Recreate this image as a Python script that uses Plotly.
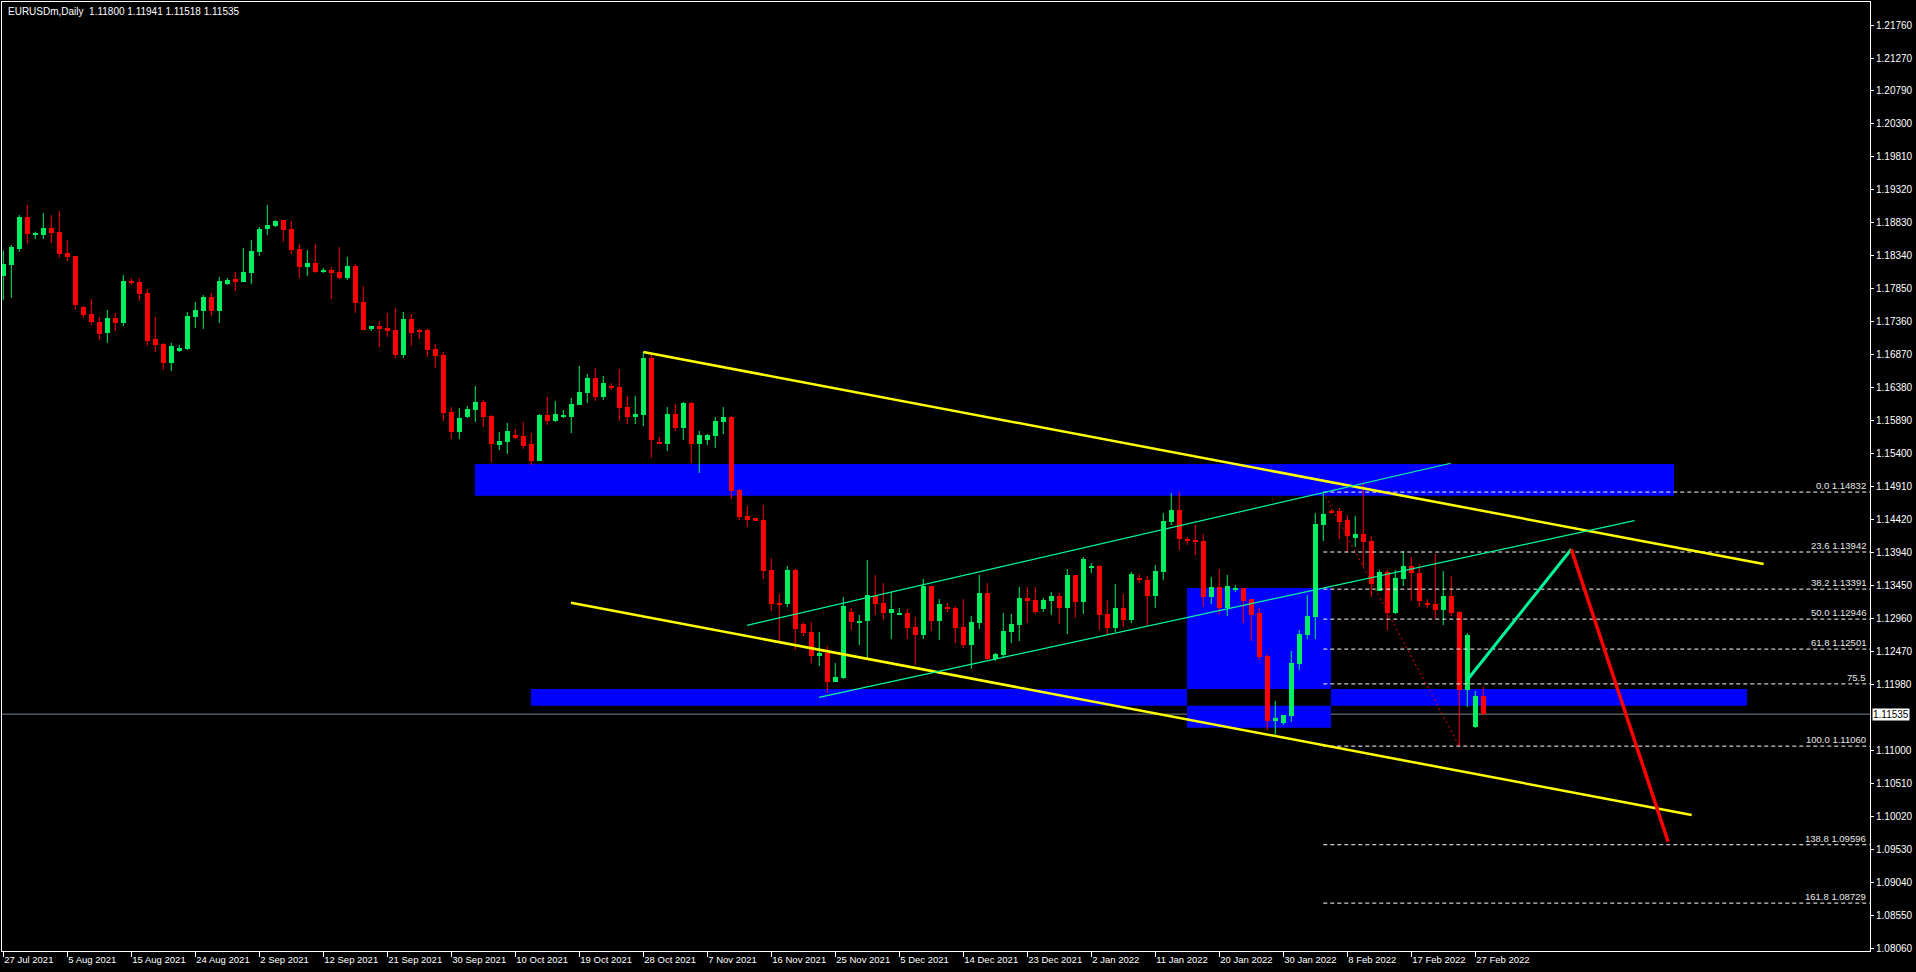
import plotly.graph_objects as go

# ---------------- data ----------------
SYMBOL = "EURUSDm,Daily"
LAST_OHLC = "1.11800 1.11941 1.11518 1.11535"
CURRENT_PRICE = 1.11535

OPEN = [1.18045, 1.18204, 1.18441, 1.18917, 1.18644, 1.18649, 1.18753, 1.18694, 1.18382, 1.18337,
        1.17580, 1.17476, 1.17357, 1.17194, 1.17417, 1.17343, 1.17966, 1.17951, 1.17788, 1.17105,
        1.17031, 1.16749, 1.16927, 1.16957, 1.17432, 1.17521, 1.17729, 1.17521, 1.17922, 1.17996,
        1.17951, 1.18085, 1.18397, 1.18738, 1.18783, 1.18872, 1.18738, 1.18441, 1.18174, 1.18234,
        1.18110, 1.18130, 1.18100, 1.18011, 1.18189, 1.17654, 1.17254, 1.17298, 1.17268, 1.17239,
        1.16867, 1.17402, 1.17239, 1.17239, 1.16957, 1.16867, 1.16021, 1.15724, 1.15947, 1.16051,
        1.16170, 1.15962, 1.15531, 1.15576, 1.15680, 1.15665, 1.15546, 1.15293, 1.15977, 1.15887,
        1.15947, 1.15947, 1.16125, 1.16303, 1.16526, 1.16244, 1.16407, 1.16392, 1.16095, 1.15947,
        1.15977, 1.16823, 1.15576, 1.15546, 1.15991, 1.15783, 1.16155, 1.15546, 1.15605, 1.15665,
        1.15873, 1.15947, 1.14863, 1.14477, 1.14447, 1.14417, 1.13675, 1.13185, 1.13170, 1.13675,
        1.12873, 1.12754, 1.12398, 1.12443, 1.12012, 1.12071, 1.13051, 1.12903, 1.12918, 1.13289,
        1.13185, 1.13037, 1.13007, 1.13037, 1.12829, 1.12710, 1.13437, 1.12918, 1.13126, 1.13111,
        1.12829, 1.12561, 1.12888, 1.13334, 1.12354, 1.12413, 1.12754, 1.12858, 1.13259, 1.13230,
        1.13096, 1.13215, 1.13289, 1.13111, 1.13601, 1.13200, 1.13705, 1.13734, 1.13022, 1.12814,
        1.13111, 1.12933, 1.13556, 1.13527, 1.13289, 1.13645, 1.14388, 1.14566, 1.14120, 1.14120,
        1.14106, 1.13274, 1.13423, 1.13111, 1.13378, 1.13408, 1.13244, 1.13037, 1.12398, 1.11433,
        1.11403, 1.11507, 1.12279, 1.12710, 1.12977, 1.14343, 1.14551, 1.14551, 1.14417, 1.14150,
        1.14210, 1.14106, 1.13363, 1.13645, 1.13037, 1.13541, 1.13734, 1.13630, 1.13185, 1.13170,
        1.13081, 1.13289, 1.13051, 1.11893, 1.11344, 1.11800]
HIGH = [1.18417, 1.18501, 1.18946, 1.19095, 1.18699, 1.18976, 1.18946, 1.19006, 1.18575, 1.18337,
        1.17595, 1.17699, 1.17432, 1.17536, 1.17491, 1.18055, 1.18011, 1.18011, 1.17847, 1.17432,
        1.17046, 1.17046, 1.17016, 1.17506, 1.17654, 1.17758, 1.17788, 1.18026, 1.18011, 1.18100,
        1.18456, 1.18575, 1.18768, 1.19095, 1.18872, 1.18872, 1.18857, 1.18516, 1.18427, 1.18516,
        1.18159, 1.18174, 1.18471, 1.18323, 1.18219, 1.17892, 1.17298, 1.17372, 1.17491, 1.17565,
        1.17506, 1.17476, 1.17254, 1.17254, 1.17031, 1.16912, 1.16095, 1.16080, 1.16110, 1.16407,
        1.16199, 1.15977, 1.15724, 1.15858, 1.15769, 1.15873, 1.15709, 1.15991, 1.16244, 1.16184,
        1.16051, 1.16229, 1.16704, 1.16585, 1.16674, 1.16556, 1.16452, 1.16660, 1.16259, 1.16259,
        1.16912, 1.16882, 1.15650, 1.16095, 1.16140, 1.16170, 1.16170, 1.15739, 1.15694, 1.15947,
        1.16095, 1.15962, 1.14878, 1.14625, 1.14447, 1.14640, 1.13853, 1.13319, 1.13734, 1.13690,
        1.12903, 1.12903, 1.12754, 1.12547, 1.12294, 1.13274, 1.13111, 1.13007, 1.13823, 1.13601,
        1.13482, 1.13348, 1.13111, 1.13096, 1.12977, 1.13541, 1.13437, 1.13244, 1.13185, 1.13140,
        1.13244, 1.12992, 1.13601, 1.13482, 1.12443, 1.13037, 1.13022, 1.13423, 1.13423, 1.13423,
        1.13259, 1.13348, 1.13334, 1.13690, 1.13601, 1.13868, 1.13779, 1.13749, 1.13230, 1.13467,
        1.13319, 1.13645, 1.13616, 1.13586, 1.13749, 1.14521, 1.14818, 1.14832, 1.14165, 1.14343,
        1.14210, 1.13571, 1.13690, 1.13601, 1.13452, 1.13408, 1.13244, 1.13111, 1.12428, 1.11730,
        1.11522, 1.12472, 1.12784, 1.13304, 1.14521, 1.14832, 1.14581, 1.14596, 1.14492, 1.14477,
        1.14952, 1.14180, 1.13675, 1.13675, 1.13675, 1.13957, 1.13868, 1.13764, 1.13244, 1.13913,
        1.13660, 1.13586, 1.13066, 1.12740, 1.11878, 1.11941]
LOW = [1.17684, 1.17719, 1.18402, 1.18521, 1.18590, 1.18590, 1.18530, 1.18308, 1.18263, 1.17541,
       1.17422, 1.17313, 1.17090, 1.17046, 1.17224, 1.17298, 1.17907, 1.17669, 1.17001, 1.16912,
       1.16645, 1.16630, 1.16912, 1.16942, 1.17268, 1.17254, 1.17447, 1.17343, 1.17907, 1.17818,
       1.17951, 1.17922, 1.18337, 1.18649, 1.18768, 1.18545, 1.18367, 1.18011, 1.18040, 1.18085,
       1.18085, 1.17699, 1.17996, 1.17981, 1.17491, 1.17239, 1.17224, 1.16986, 1.17135, 1.16823,
       1.16823, 1.17001, 1.17105, 1.16838, 1.16674, 1.15887, 1.15620, 1.15620, 1.15932, 1.15873,
       1.15798, 1.15279, 1.15457, 1.15397, 1.15620, 1.15472, 1.15234, 1.15293, 1.15828, 1.15873,
       1.15932, 1.15709, 1.16125, 1.16155, 1.16184, 1.16199, 1.16348, 1.15887, 1.15843, 1.15843,
       1.15813, 1.15338, 1.15546, 1.15442, 1.15739, 1.15605, 1.15264, 1.15115, 1.15531, 1.15487,
       1.15694, 1.14729, 1.14417, 1.14313, 1.14403, 1.13541, 1.13066, 1.12621, 1.13126, 1.12487,
       1.12695, 1.12289, 1.12250, 1.11849, 1.12012, 1.12057, 1.12784, 1.12561, 1.12353, 1.13007,
       1.12933, 1.12650, 1.13007, 1.12650, 1.12264, 1.12650, 1.12769, 1.12636, 1.13051, 1.12591,
       1.12517, 1.12210, 1.12799, 1.12339, 1.12324, 1.12368, 1.12591, 1.12621, 1.12888, 1.13022,
       1.13051, 1.13007, 1.12873, 1.12725, 1.12962, 1.13022, 1.13630, 1.12784, 1.12710, 1.12754,
       1.12829, 1.12888, 1.13482, 1.12844, 1.13111, 1.13527, 1.14343, 1.13972, 1.14046, 1.13898,
       1.13126, 1.13170, 1.13022, 1.12992, 1.13348, 1.12888, 1.12621, 1.12339, 1.11299, 1.11210,
       1.11374, 1.11418, 1.12190, 1.12650, 1.12650, 1.14106, 1.14507, 1.14135, 1.13942, 1.14017,
       1.13720, 1.13274, 1.13363, 1.12784, 1.13022, 1.13437, 1.13215, 1.13126, 1.13111, 1.12947,
       1.12858, 1.12992, 1.11060, 1.11641, 1.11329, 1.11518]
CLOSE = [1.18219, 1.18471, 1.18917, 1.18669, 1.18674, 1.18753, 1.18679, 1.18372, 1.18323, 1.17610,
         1.17461, 1.17362, 1.17184, 1.17417, 1.17343, 1.17966, 1.17937, 1.17773, 1.17075, 1.17016,
         1.16749, 1.17001, 1.16971, 1.17447, 1.17536, 1.17729, 1.17521, 1.17966, 1.17981, 1.17951,
         1.18100, 1.18412, 1.18738, 1.18798, 1.18857, 1.18724, 1.18427, 1.18174, 1.18234, 1.18100,
         1.18125, 1.18085, 1.18011, 1.18189, 1.17640, 1.17239, 1.17298, 1.17254, 1.17224, 1.16867,
         1.17402, 1.17194, 1.17209, 1.16942, 1.16853, 1.16006, 1.15724, 1.15932, 1.16066, 1.16170,
         1.15947, 1.15551, 1.15590, 1.15739, 1.15635, 1.15516, 1.15293, 1.15977, 1.15887, 1.15991,
         1.15962, 1.16140, 1.16318, 1.16526, 1.16244, 1.16452, 1.16377, 1.16080, 1.15947, 1.15991,
         1.16823, 1.15605, 1.15546, 1.15991, 1.15783, 1.16155, 1.15546, 1.15680, 1.15680, 1.15887,
         1.15947, 1.14848, 1.14462, 1.14417, 1.14403, 1.13660, 1.13170, 1.13155, 1.13675, 1.12799,
         1.12740, 1.12398, 1.12443, 1.12012, 1.12086, 1.13140, 1.12903, 1.12918, 1.13304, 1.13170,
         1.13037, 1.13096, 1.13037, 1.12814, 1.12710, 1.13437, 1.12918, 1.13170, 1.13096, 1.12814,
         1.12561, 1.12903, 1.13334, 1.12354, 1.12428, 1.12769, 1.12873, 1.13259, 1.13215, 1.13051,
         1.13230, 1.13289, 1.13111, 1.13601, 1.13200, 1.13838, 1.13734, 1.13007, 1.12814, 1.13111,
         1.12933, 1.13616, 1.13527, 1.13289, 1.13660, 1.14403, 1.14566, 1.14135, 1.14106, 1.14091,
         1.13274, 1.13423, 1.13111, 1.13437, 1.13408, 1.13215, 1.13007, 1.12383, 1.11433, 1.11477,
         1.11522, 1.12294, 1.12725, 1.12992, 1.14358, 1.14507, 1.14536, 1.14388, 1.14180, 1.14210,
         1.14091, 1.13467, 1.13645, 1.13037, 1.13556, 1.13734, 1.13630, 1.13215, 1.13155, 1.13081,
         1.13289, 1.13037, 1.11893, 1.12710, 1.11804, 1.11535]

DATE_LABELS = ["27 Jul 2021", "5 Aug 2021", "15 Aug 2021", "24 Aug 2021", "2 Sep 2021",
               "12 Sep 2021", "21 Sep 2021", "30 Sep 2021", "10 Oct 2021", "19 Oct 2021",
               "28 Oct 2021", "7 Nov 2021", "16 Nov 2021", "25 Nov 2021", "5 Dec 2021",
               "14 Dec 2021", "23 Dec 2021", "2 Jan 2022", "11 Jan 2022", "20 Jan 2022",
               "30 Jan 2022", "8 Feb 2022", "17 Feb 2022", "27 Feb 2022"]
DATE_STEP = 8  # one date label every 8 bars

PRICE_TICKS = [1.21760, 1.21270, 1.20790, 1.20300, 1.19810, 1.19320, 1.18830, 1.18340, 1.17850,
               1.17360, 1.16870, 1.16380, 1.15890, 1.15400, 1.14910, 1.14420, 1.13940, 1.13450,
               1.12960, 1.12470, 1.11980, 1.11000, 1.10510, 1.10020, 1.09530, 1.09040, 1.08550,
               1.08060]

# Fibonacci retracement (anchored at bar 165 high -> bar 182 low)
FIB_START_BAR = 165
FIB_PRICES = [1.14832, 1.13942, 1.13391, 1.12946, 1.12501, 1.11984, 1.11060, 1.09596, 1.08729]
FIB_TEXT = ["0.0 1.14832", "23.6 1.13942", "38.2 1.13391", "50.0 1.12946", "61.8 1.12501",
            "75.5", "100.0 1.11060", "138.8 1.09596", "161.8 1.08729"]

# zones: (bar_from, bar_to, price_low, price_high)
ZONE_TOP = (58.96, 208.84, 1.14779, 1.15249)
ZONE_LOW = (65.96, 217.96, 1.11660, 1.11908)
ZONE_BOX = (147.96, 165.96, 1.11334, 1.13408)

# trend lines: (bar0, price0, bar1, price1)
YELLOW_UPPER = (80.0, 1.16912, 220.04, 1.13764)
YELLOW_LOWER = (70.96, 1.13190, 211.05, 1.10038)
GREEN_UPPER = (92.96, 1.12854, 180.93, 1.15260)
GREEN_LOWER = (101.96, 1.11785, 203.9, 1.14407)
FIB_BASE = (165.0, 1.14832, 182.0, 1.11060)
PROJ_UP = (183.0, 1.12042, 196.0, 1.13983)
PROJ_DOWN = (196.0, 1.13983, 208.1, 1.09641)

# ---------------- figure ----------------
W, H = 1916, 972
ML, MR, MT, MB = 2, 46, 2, 21
XRANGE = [-0.1625, 233.34]
YRANGE = [1.08018, 1.22109]

GREEN = "#00F060"
RED = "#FF0000"
FONT = "'Liberation Sans', Arial, sans-serif"

n = len(OPEN)
idx = list(range(n))
up = [i for i in idx if CLOSE[i] >= OPEN[i]]
dn = [i for i in idx if CLOSE[i] < OPEN[i]]

MIN_BODY = 0.00018


def wick_xy(ids):
    xs, ys = [], []
    for i in ids:
        xs += [i, i, None]
        ys += [LOW[i], HIGH[i], None]
    return xs, ys


fig = go.Figure()
for ids, col in ((up, GREEN), (dn, RED)):
    wx, wy = wick_xy(ids)
    fig.add_trace(go.Scatter(x=wx, y=wy, mode="lines", line=dict(color=col, width=1),
                             hoverinfo="skip", showlegend=False))
    base = [min(OPEN[i], CLOSE[i]) for i in ids]
    hgt = [max(abs(CLOSE[i] - OPEN[i]), MIN_BODY) for i in ids]
    fig.add_trace(go.Bar(x=ids, y=hgt, base=base, width=0.625,
                         marker=dict(color=col, line=dict(width=0)),
                         hoverinfo="skip", showlegend=False))

shapes = []
for z in (ZONE_TOP, ZONE_LOW, ZONE_BOX):
    shapes.append(dict(type="rect", xref="x", yref="y", x0=z[0], x1=z[1], y0=z[2], y1=z[3],
                       fillcolor="#0000FF", line=dict(width=0), layer="below"))
# XOR overlap of the two lower zones shows as black
ox0, ox1 = max(ZONE_LOW[0], ZONE_BOX[0]), min(ZONE_LOW[1], ZONE_BOX[1])
oy0, oy1 = max(ZONE_LOW[2], ZONE_BOX[2]), min(ZONE_LOW[3], ZONE_BOX[3])
shapes.append(dict(type="rect", xref="x", yref="y", x0=ox0, x1=ox1, y0=oy0, y1=oy1,
                   fillcolor="#000000", line=dict(width=0), layer="below"))
# current price line
shapes.append(dict(type="line", xref="paper", yref="y", x0=0, x1=1, y0=CURRENT_PRICE,
                   y1=CURRENT_PRICE, line=dict(color="#7A8896", width=1), layer="below"))


def seg(t, color, width, dash="solid"):
    return dict(type="line", xref="x", yref="y", x0=t[0], y0=t[1], x1=t[2], y1=t[3],
                line=dict(color=color, width=width, dash=dash), layer="above")


for p in FIB_PRICES:
    shapes.append(dict(type="line", xref="x", yref="y", x0=FIB_START_BAR, x1=XRANGE[1],
                       y0=p, y1=p, line=dict(color="#FFFFFF", width=1, dash="4px,3px"),
                       layer="above"))
shapes.append(seg(FIB_BASE, RED, 1, "2px,3px"))
shapes.append(seg(YELLOW_UPPER, "#FFFF00", 2.5))
shapes.append(seg(YELLOW_LOWER, "#FFFF00", 2.5))
shapes.append(seg(GREEN_UPPER, "#00FA9A", 1.2))
shapes.append(seg(GREEN_LOWER, "#00FA9A", 1.2))
shapes.append(seg(PROJ_UP, "#00FA9A", 3))
shapes.append(seg(PROJ_DOWN, RED, 3.5))

annotations = [
    dict(xref="paper", yref="paper", x=0, y=1, xanchor="left", yanchor="top", xshift=4,
         yshift=-2, showarrow=False, text=SYMBOL + "&nbsp;&nbsp;" + LAST_OHLC,
         font=dict(color="#FFFFFF", size=10, family=FONT)),
    dict(xref="paper", yref="y", x=1, y=CURRENT_PRICE, xanchor="left", yanchor="middle",
         xshift=2, showarrow=False, text=f"{CURRENT_PRICE:.5f}", bgcolor="#FFFFFF",
         borderpad=0, font=dict(color="#000000", size=10, family=FONT)),
]
for p, t in zip(FIB_PRICES, FIB_TEXT):
    annotations.append(dict(xref="paper", yref="y", x=1, y=p, xanchor="right", yanchor="bottom",
                            xshift=-2, yshift=-1, showarrow=False, text=t,
                            font=dict(color="#E8E8E8", size=9.5, family=FONT)))

tick_bars = [k * DATE_STEP for k in range(len(DATE_LABELS))]

fig.update_layout(
    template="none",
    width=W, height=H,
    margin=dict(l=ML, r=MR, t=MT, b=MB, pad=0),
    paper_bgcolor="#000000", plot_bgcolor="#000000",
    showlegend=False, barmode="overlay", bargap=0,
    shapes=shapes, annotations=annotations,
    hovermode=False,
    xaxis=dict(range=XRANGE, tickmode="array", tickvals=tick_bars, ticktext=DATE_LABELS,
               ticks="outside", ticklen=5, tickcolor="#FFFFFF", tickwidth=1,
               ticklabelposition="outside right", tickangle=0,
               tickfont=dict(color="#FFFFFF", size=9.5, family=FONT),
               showline=True, linecolor="#FFFFFF", linewidth=1, mirror=True,
               showgrid=False, zeroline=False, automargin=False, fixedrange=True),
    yaxis=dict(range=YRANGE, side="right", tickmode="array", tickvals=PRICE_TICKS,
               ticktext=[f"{v:.5f}" for v in PRICE_TICKS],
               ticks="outside", ticklen=3, tickcolor="#FFFFFF", tickwidth=1,
               tickfont=dict(color="#FFFFFF", size=10, family=FONT),
               showline=True, linecolor="#FFFFFF", linewidth=1, mirror=True,
               showgrid=False, zeroline=False, automargin=False, fixedrange=True),
)

fig.write_html(
    "out.html",
    config={"displayModeBar": False},
    post_script="document.body.style.margin='0';document.body.style.overflow='hidden';"
                "document.body.style.background='#000';",
)
